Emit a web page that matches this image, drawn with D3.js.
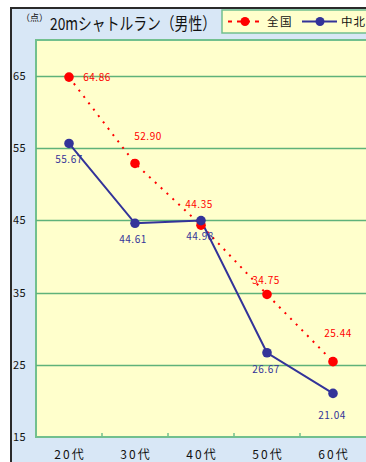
<!DOCTYPE html>
<html><head><meta charset="utf-8">
<script src="https://cdn.jsdelivr.net/npm/d3@7"></script>
<style>body{margin:0;background:#fff}svg{display:block}</style>
</head><body>
<script>
const categories = ["20代","30代","40代","50代","60代"];
const nationalValues = [64.86, 52.90, 44.35, 34.75, 25.44];
const chuhokuValues = [55.67, 44.61, 44.98, 26.67, 21.04];
const yTicks = [15, 25, 35, 45, 55, 65];
const seriesNames = ["全国", "中北"];
const titleText = "20mシャトルラン（男性）";
const unitText = "（点）";

// label offsets (style, not data)
const redLabelOffsets = [[28, 4], [13, -23], [-2, -17], [-1, -10], [5, -25]];
const blueLabelOffsets = [[0, 20], [-2, 20], [-1, 19], [-1, 20], [-1, 26]];

const W = 366, H = 462;
const svg = d3.select("body").append("svg").attr("width", W).attr("height", H);

const font = "'Noto Sans CJK JP', 'DejaVu Sans', sans-serif";

// frame
svg.append("rect").attr("x", 11).attr("y", 8).attr("width", W).attr("height", H)
  .attr("fill", "#d8e7f6").attr("stroke", "#2a2a2a").attr("stroke-width", 2);

const plot = {left: 36, right: 366, top: 40, bottom: 437};
const x = d3.scaleBand().domain(categories).range([plot.left, plot.right]);
const y = d3.scaleLinear().domain([15, 70]).range([plot.bottom, plot.top]);

svg.append("rect").attr("x", plot.left).attr("y", plot.top)
  .attr("width", plot.right - plot.left + 4).attr("height", plot.bottom - plot.top)
  .attr("fill", "#ffffcc").attr("stroke", "#72c08e").attr("stroke-width", 2);

// gridlines
svg.append("g").selectAll("line").data(yTicks.filter(t => t > 15)).join("line")
  .attr("x1", plot.left).attr("x2", plot.right + 4)
  .attr("y1", d => Math.round(y(d)) + 0.5).attr("y2", d => Math.round(y(d)) + 0.5)
  .attr("stroke", "#5fb27a").attr("stroke-width", 1.3);

// y axis labels
svg.append("g").selectAll("text").data(yTicks).join("text")
  .attr("x", 13).attr("y", d => y(d) + 4)
  .attr("font-family", font).attr("font-size", 11).attr("fill", "#111")
  .attr("letter-spacing", 0.5)
  .text(d => d);

// x ticks
svg.append("g").selectAll("line").data(categories.slice(1)).join("line")
  .attr("x1", d => x(d)).attr("x2", d => x(d))
  .attr("y1", plot.bottom).attr("y2", plot.bottom - 4)
  .attr("stroke", "#72c08e").attr("stroke-width", 1.5);

// x labels
svg.append("g").selectAll("text").data(categories).join("text")
  .attr("x", d => x(d) + x.bandwidth() / 2 + 1).attr("y", 459)
  .attr("text-anchor", "middle")
  .attr("font-family", font).attr("font-size", 12).attr("fill", "#111")
  .attr("letter-spacing", 2)
  .text(d => d);

const cx = (d, i) => x(categories[i]) + x.bandwidth() / 2;
const line = d3.line().x(cx).y(d => y(d));

// national (red, dotted)
svg.append("path").datum(nationalValues).attr("d", line)
  .attr("fill", "none").attr("stroke", "#ff0000").attr("stroke-width", 2)
  .attr("stroke-dasharray", "2,6");
// chuhoku (blue)
svg.append("path").datum(chuhokuValues).attr("d", line)
  .attr("fill", "none").attr("stroke", "#333399").attr("stroke-width", 2);

svg.append("g").selectAll("circle").data(nationalValues).join("circle")
  .attr("cx", cx).attr("cy", d => y(d)).attr("r", 4.8).attr("fill", "#ff0000");
svg.append("g").selectAll("circle").data(chuhokuValues).join("circle")
  .attr("cx", cx).attr("cy", d => y(d)).attr("r", 4.8).attr("fill", "#333399");

svg.append("g").selectAll("text").data(nationalValues).join("text")
  .attr("x", (d, i) => cx(d, i) + redLabelOffsets[i][0])
  .attr("y", (d, i) => y(d) + redLabelOffsets[i][1])
  .attr("text-anchor", "middle").attr("font-family", font).attr("font-size", 10)
  .attr("fill", "#ff0000").attr("letter-spacing", 0.5)
  .text(d => d.toFixed(2));
svg.append("g").selectAll("text").data(chuhokuValues).join("text")
  .attr("x", (d, i) => cx(d, i) + blueLabelOffsets[i][0])
  .attr("y", (d, i) => y(d) + blueLabelOffsets[i][1])
  .attr("text-anchor", "middle").attr("font-family", font).attr("font-size", 10)
  .attr("fill", "#333399").attr("letter-spacing", 0.5)
  .text(d => d.toFixed(2));

// title
svg.append("text").attr("x", 21).attr("y", 21)
  .attr("font-family", font).attr("font-size", 9).attr("fill", "#111")
  .text(unitText);
svg.append("text").attr("x", 50).attr("y", 30)
  .attr("font-family", font).attr("font-size", 17).attr("fill", "#111")
  .attr("textLength", 166).attr("lengthAdjust", "spacingAndGlyphs").text(titleText);

// legend
const lg = svg.append("g");
lg.append("rect").attr("x", 222).attr("y", 10).attr("width", 160).attr("height", 23)
  .attr("fill", "#ffffcc").attr("stroke", "#72c08e").attr("stroke-width", 1.5);
lg.append("line").attr("x1", 228).attr("x2", 263).attr("y1", 21.5).attr("y2", 21.5)
  .attr("stroke", "#ff0000").attr("stroke-width", 2).attr("stroke-dasharray", "4,5");
lg.append("circle").attr("cx", 245).attr("cy", 21.5).attr("r", 4.5).attr("fill", "#ff0000");
lg.append("text").attr("x", 267).attr("y", 26).attr("font-family", font).attr("font-size", 11.5)
  .attr("fill", "#111").attr("letter-spacing", 1.5).text(seriesNames[0]);
lg.append("line").attr("x1", 302).attr("x2", 337).attr("y1", 21.5).attr("y2", 21.5)
  .attr("stroke", "#333399").attr("stroke-width", 2);
lg.append("circle").attr("cx", 320).attr("cy", 21.5).attr("r", 4.5).attr("fill", "#333399");
lg.append("text").attr("x", 341).attr("y", 26).attr("font-family", font).attr("font-size", 11.5)
  .attr("fill", "#111").attr("letter-spacing", 1).text(seriesNames[1]);
</script>
</body></html>
